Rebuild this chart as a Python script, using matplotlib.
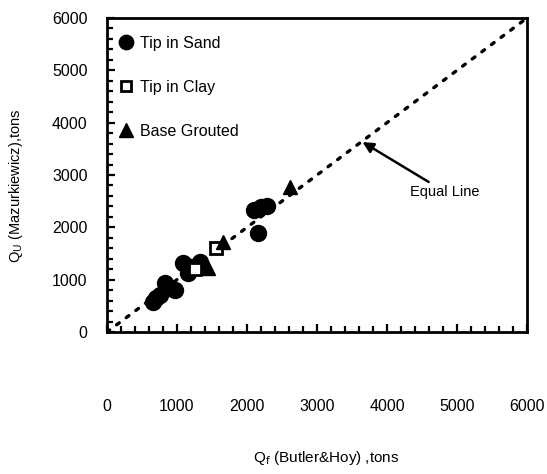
import numpy as np
import matplotlib
matplotlib.use("Agg")
import matplotlib.pyplot as plt
from matplotlib.ticker import MultipleLocator

plt.rcParams['font.family'] = ['Liberation Sans', 'DejaVu Sans']

# ---- pile capacities (tons): Butler&Hoy vs Mazurkiewicz ----
sand_qf = [660, 700, 760, 830, 880, 970, 1090, 1150, 1200, 1330, 2100, 2200, 2290, 2160]
sand_qu = [580, 650, 700, 930, 850, 800, 1320, 1130, 1250, 1330, 2340, 2380, 2400, 1890]

clay_qf = [1260, 1560]
clay_qu = [1200, 1610]

grout_qf = [1440, 1650, 2620]
grout_qu = [1230, 1720, 2780]

equal_line = [0, 6000]
tick_vals = [0, 1000, 2000, 3000, 4000, 5000, 6000]
tick_labels = ["0", "1000", "2000", "3000", "4000", "5000", "6000"]

fig = plt.figure(figsize=(5.47, 4.74), dpi=100)
ax = fig.add_axes([107 / 547, 1 - 332 / 474, 420 / 547, 314 / 474])

ax.plot(equal_line, equal_line, color="black", lw=2.4,
        linestyle=(0, (1.0, 2.6)), dash_capstyle="round", zorder=2)

ax.plot(sand_qf, sand_qu, "o", color="black", ms=11.5, mec="black",
        label="Tip in Sand", zorder=3)
ax.plot(clay_qf, clay_qu, "s", mfc="white", mec="black", mew=2.0, ms=8.5,
        label="Tip in Clay", zorder=4)
ax.plot(grout_qf, grout_qu, "^", color="black", ms=10.5,
        label="Base Grouted", zorder=4)

ax.annotate("Equal Line", xy=(3650, 3630), xytext=(4330, 2680),
            fontsize=10.5, va="center", ha="left",
            arrowprops=dict(arrowstyle="-|>", color="black", lw=1.8,
                            mutation_scale=16, shrinkA=0, shrinkB=0))

leg = ax.legend(loc="upper left", bbox_to_anchor=(0.0, 0.978),
                frameon=False, fontsize=11.5,
                labelspacing=1.8, handletextpad=0.35, handlelength=1.0,
                borderaxespad=0.3, markerscale=0.9)

ax.set_xlim(0, 6000)
ax.set_ylim(0, 6000)
ax.set_xticks(tick_vals)
ax.set_xticklabels(tick_labels)
ax.set_yticks(tick_vals)
ax.set_yticklabels(tick_labels)
ax.xaxis.set_minor_locator(MultipleLocator(200))
ax.yaxis.set_minor_locator(MultipleLocator(200))
ax.tick_params(which="both", direction="in", width=1.6, labelsize=11.5)
ax.tick_params(which="major", length=6)
ax.tick_params(which="minor", length=4)
ax.tick_params(axis="x", which="major", pad=48)
ax.tick_params(axis="y", which="major", pad=14)
for s in ax.spines.values():
    s.set_linewidth(2.0)

fig.text(326 / 547, 1 - 458 / 474, r"Q$_{\rm f}$ (Butler&Hoy) ,tons",
         ha="center", va="center", fontsize=11)
fig.text(16 / 547, 1 - 186 / 474, r"Q$_{\rm U}$ (Mazurkiewicz),tons",
         ha="center", va="center", fontsize=10.5, rotation=90)

fig.savefig("out.png", dpi=100)
